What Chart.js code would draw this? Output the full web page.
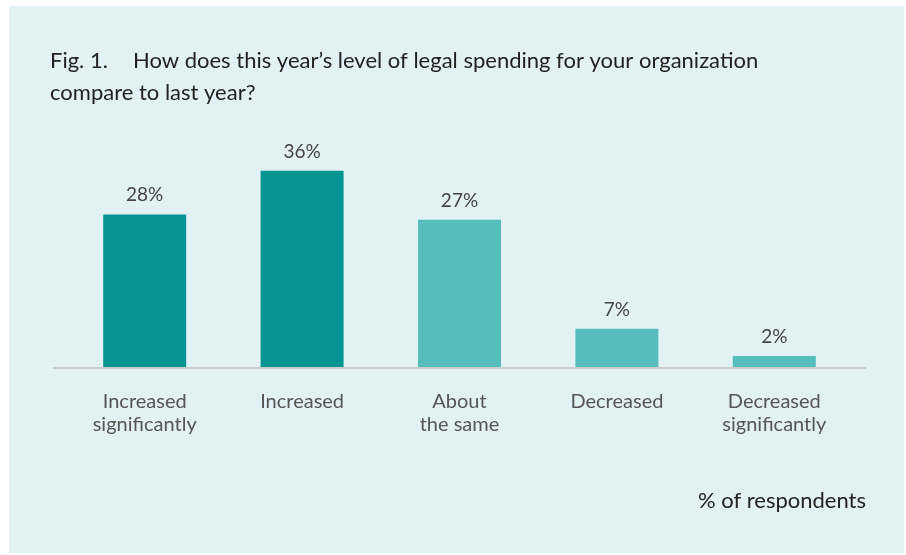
<!DOCTYPE html>
<html>
<head>
<meta charset="utf-8">
<script src="https://cdn.jsdelivr.net/npm/chart.js@4.4.1/dist/chart.umd.min.js"></script>
<style>
  html, body { margin: 0; padding: 0; background: #ffffff; }
  #wrap { width: 906px; height: 555px; }
</style>
</head>
<body>
<div id="wrap"><canvas id="spendChart" width="906" height="555"></canvas></div>
<script>
// survey answers, % of respondents
const categories = [
  ['Increased', 'significantly'],
  'Increased',
  ['About', 'the same'],
  'Decreased',
  ['Decreased', 'significantly']
];
const shares = [28, 36, 27, 7, 2];
const barColors = ['#049592', '#049592', '#56bdbd', '#56bdbd', '#56bdbd'];

const FONT = 'Lato, "Open Sans", sans-serif';

// panel, heading, baseline, value labels and footnote
const decorations = {
  id: 'decorations',
  beforeDraw(chart) {
    const c = chart.ctx;
    c.save();
    c.fillStyle = '#e2f1f4';
    c.fillRect(9, 6, 895, 547);
    c.fillStyle = '#222222';
    c.font = '22px ' + FONT;
    c.textBaseline = 'alphabetic';
    c.textAlign = 'left';
    c.fillText('Fig. 1.', 50, 68);
    c.fillText('How does this year\u2019s level of legal spending for your organization', 133, 68);
    c.fillText('compare to last year?', 50, 100);
    c.restore();
  },
  afterDatasetsDraw(chart) {
    const c = chart.ctx;
    const area = chart.chartArea;
    c.save();
    c.strokeStyle = '#c9cccd';
    c.lineWidth = 2;
    c.beginPath();
    c.moveTo(53, area.bottom + 1);
    c.lineTo(866, area.bottom + 1);
    c.stroke();

    c.fillStyle = '#444444';
    c.font = '19px ' + FONT;
    c.textAlign = 'center';
    c.textBaseline = 'alphabetic';
    chart.getDatasetMeta(0).data.forEach((bar, i) => {
      c.fillText(shares[i] + '%', bar.x, bar.y - 13);
    });

    c.fillStyle = '#222222';
    c.font = '22px ' + FONT;
    c.textAlign = 'right';
    c.fillText('% of respondents', 866, 508);
    c.restore();
  }
};

new Chart(document.getElementById('spendChart'), {
  type: 'bar',
  data: {
    labels: categories,
    datasets: [{
      data: shares,
      backgroundColor: barColors,
      borderWidth: 0,
      barPercentage: 0.527,
      categoryPercentage: 1
    }]
  },
  options: {
    responsive: false,
    animation: false,
    layout: { padding: { left: 66, right: 53, top: 149, bottom: 104 } },
    plugins: {
      legend: { display: false },
      tooltip: { enabled: false }
    },
    scales: {
      x: {
        grid: { display: false },
        border: { display: false },
        ticks: {
          color: '#555555',
          font: { family: FONT, size: 20, lineHeight: 1.15 },
          padding: 15,
          maxRotation: 0
        }
      },
      y: {
        display: false,
        min: 0,
        max: 40
      }
    }
  },
  plugins: [decorations]
});
</script>
</body>
</html>
